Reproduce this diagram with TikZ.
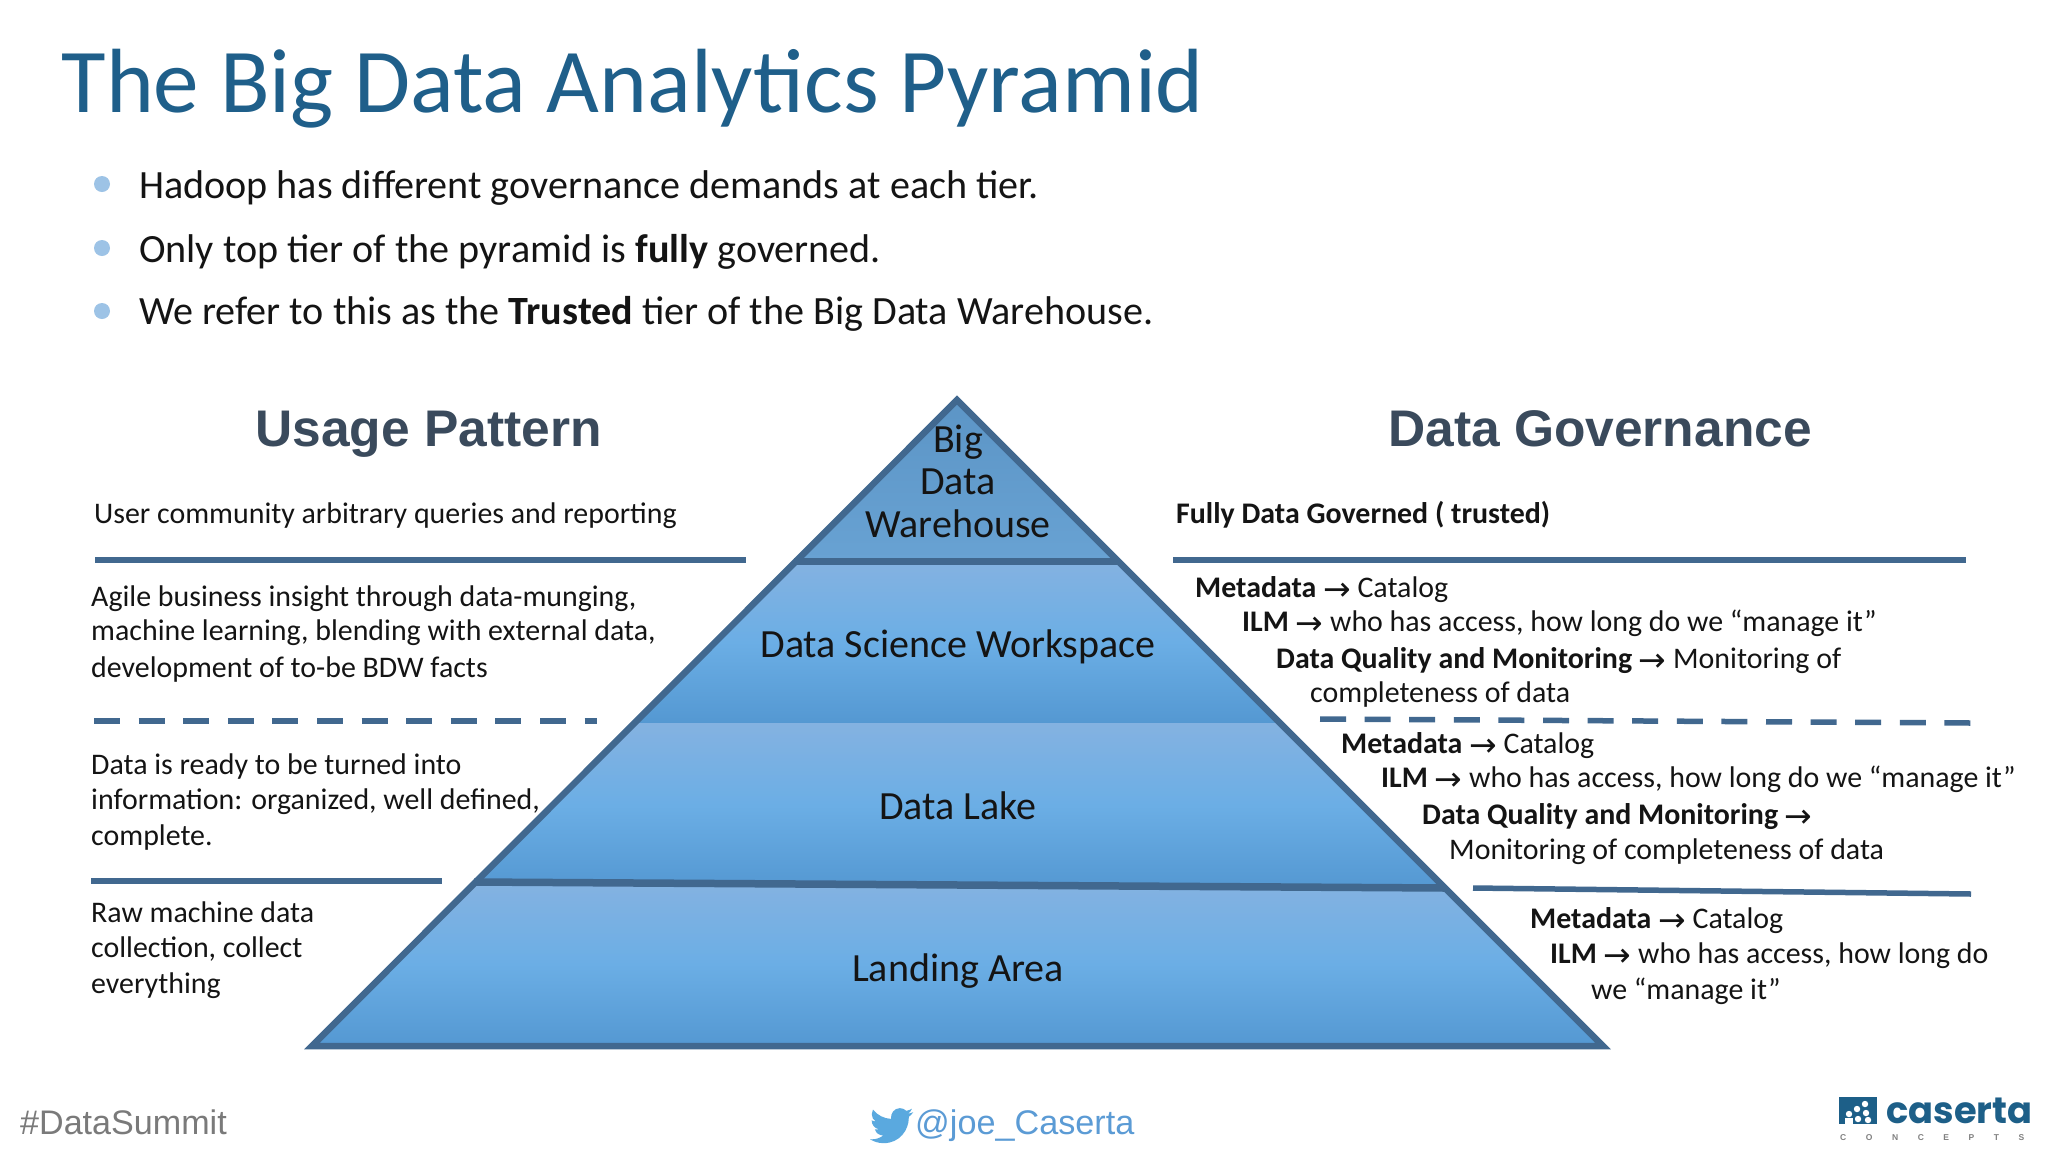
\documentclass[tikz,border=0pt]{standalone}
\usepackage{fontspec}
\setmainfont{Carlito}
\newfontfamily\headfont{Liberation Sans}
\newfontfamily\arrowfont{DejaVu Sans}
\newfontfamily\logofont{Poppins}
\newcommand{\toarrow}{\raisebox{-3.5pt}{\arrowfont\fontsize{33}{33}\selectfont →}}
\definecolor{titleblue}{HTML}{1F5F8A}
\definecolor{rulecol}{HTML}{41688F}
\definecolor{headcol}{HTML}{3A4A5C}
\definecolor{bulletcol}{HTML}{9DC3E6}
\definecolor{tierlight}{HTML}{84B2E1}
\definecolor{tiermid}{HTML}{6BAEE5}
\definecolor{tierdark}{HTML}{5498D2}
\definecolor{capa}{HTML}{5C95C6}
\definecolor{capb}{HTML}{68A2D3}
\definecolor{inktxt}{HTML}{141414}
\definecolor{logocol}{HTML}{1D5F88}
\definecolor{TwitBlue}{HTML}{5B9BD5}
\definecolor{TwitBird}{HTML}{5AA9DF}
\tikzset{
  txt/.style={anchor=base west,inner sep=0pt,text=inktxt,font=\fontsize{29.9}{30}\selectfont},
  bullettxt/.style={anchor=base west,inner sep=0pt,text=inktxt,font=\fontsize{40.1}{41}\selectfont},
  tierlabel/.style={anchor=base,inner sep=0pt,text=inktxt,font=\fontsize{40}{41}\selectfont},
  headtxt/.style={anchor=base,inner sep=0pt,text=headcol,font=\headfont\bfseries\fontsize{51.5}{54}\selectfont},
  solidrule/.style={draw=rulecol,line width=5.5pt},
  dashrule/.style={draw=rulecol,line width=5.5pt,dash pattern=on 26pt off 18.6pt},
  tierband/.style={top color=tierlight,bottom color=tierdark,middle color=tiermid},
  bulletdot/.style={fill=bulletcol,circle,inner sep=0pt,minimum size=16pt},
}
\begin{document}
\begin{tikzpicture}[x=1pt,y=-1pt]
\useasboundingbox (0,0) rectangle (2048,1152);
\fill[white] (0,0) rectangle (2048,1152);

% title and bullets
\node[anchor=base west,inner sep=0pt,text=titleblue,font=\fontsize{91.2}{95}\selectfont] (title) at (61.5,112) {The Big Data Analytics Pyramid};
\node[bulletdot] (b1) at (102,184) {};
\node[bulletdot] (b2) at (102,248) {};
\node[bulletdot] (b3) at (102,311) {};
\node[bullettxt] (bt1) at (139,198.5) {Hadoop has different governance demands at each tier.};
\node[bullettxt] (bt2) at (139,262) {Only top tier of the pyramid is \textbf{fully} governed.};
\node[bullettxt] (bt3) at (139,324.5) {We refer to this as the \textbf{Trusted} tier of the Big Data Warehouse.};

% pyramid
\coordinate (apex) at (957,400);
\coordinate (t1l) at (794,561);
\coordinate (t1r) at (1120,561);
\coordinate (t2l) at (636,723);
\coordinate (t2r) at (1279,723);
\coordinate (t3l) at (474,882);
\coordinate (t3r) at (1445,888);
\coordinate (bl) at (312,1046);
\coordinate (br) at (1603,1046);
\fill[top color=capa,bottom color=capb] (apex) -- (t1r) -- (t1l) -- cycle;
\path[tierband] (t1l) -- (t1r) -- (t2r) -- (t2l) -- cycle;
\path[tierband] (t2l) -- (t2r) -- (t3r) -- (t3l) -- cycle;
\path[tierband] (t3l) -- (t3r) -- (br) -- (bl) -- cycle;
\draw[rulecol,line width=6.5pt,line join=miter] (apex) -- (bl) -- (br) -- cycle;
\draw[solidrule,line width=7pt] (t1l) -- (t1r);
\draw[solidrule,line width=7.5pt] (t3l) -- (t3r);

\node[tierlabel] (bdw1) at (958,452) {Big};
\node[tierlabel] (bdw2) at (958,494) {Data};
\node[tierlabel] (bdw3) at (958,537) {Warehouse};
\node[tierlabel] (dsw) at (958,657) {Data Science Workspace};
\node[tierlabel] (lake) at (958,819) {Data Lake};
\node[tierlabel] (land) at (958,981) {Landing Area};

% column heads
\node[headtxt] (usage) at (428.5,446) {Usage Pattern};
\node[headtxt] (gov) at (1600,446) {Data Governance};

% separators
\coordinate (la1) at (95,560);  \coordinate (la2) at (746,560);
\coordinate (ra1) at (1173,560); \coordinate (ra2) at (1966,560);
\coordinate (lb1) at (94,721);  \coordinate (lb2) at (597,721);
\coordinate (rb1) at (1320,719); \coordinate (rb2) at (1971,723);
\coordinate (lc1) at (91,881);  \coordinate (lc2) at (442,881);
\coordinate (rc1) at (1473,888); \coordinate (rc2) at (1971,894);
\draw[solidrule] (la1) -- (la2);
\draw[solidrule] (ra1) -- (ra2);
\draw[dashrule] (lb1) -- (lb2);
\draw[dashrule] (rb1) -- (rb2);
\draw[solidrule] (lc1) -- (lc2);
\draw[solidrule] (rc1) -- (rc2);

% left column
\node[txt] (l1) at (94,523) {User community arbitrary queries and reporting};
\node[txt] (l2a) at (91,606) {Agile business insight through data-munging,};
\node[txt] (l2b) at (91,640) {machine learning, blending with external data,};
\node[txt] (l2c) at (91,677) {development of to-be BDW facts};
\node[txt] (l3a) at (91,774) {Data is ready to be turned into};
\node[txt] (l3b) at (91,809) {information: organized, well defined,};
\node[txt] (l3c) at (91,845) {complete.};
\node[txt] (l4a) at (91,922) {Raw machine data};
\node[txt] (l4b) at (91,957) {collection, collect};
\node[txt] (l4c) at (91,993) {everything};

% right column
\node[txt] (r1) at (1176,523) {\textbf{Fully Data Governed ( trusted)}};
\node[txt] (r2a) at (1195,597) {\textbf{Metadata} \toarrow{} Catalog};
\node[txt] (r2b) at (1242,631) {\textbf{ILM} \toarrow{} who has access, how long do we “manage it”};
\node[txt] (r2c) at (1276,668) {\textbf{Data Quality and Monitoring} \toarrow{} Monitoring of};
\node[txt] (r2d) at (1310,702) {completeness of data};
\node[txt] (r3a) at (1341,753) {\textbf{Metadata} \toarrow{} Catalog};
\node[txt] (r3b) at (1381,787) {\textbf{ILM} \toarrow{} who has access, how long do we “manage it”};
\node[txt] (r3c) at (1422,824) {\textbf{Data Quality and Monitoring} \toarrow{}};
\node[txt] (r3d) at (1449,859) {Monitoring of completeness of data};
\node[txt] (r4a) at (1530,928) {\textbf{Metadata} \toarrow{} Catalog};
\node[txt] (r4b) at (1550,963) {\textbf{ILM} \toarrow{} who has access, how long do};
\node[txt] (r4c) at (1591,999) {we “manage it”};

% footer
\node[anchor=base west,inner sep=0pt,text=black!52,font=\headfont\fontsize{34.1}{36}\selectfont] (tag) at (20,1134) {\#DataSummit};
\node[anchor=base west,inner sep=0pt,text=TwitBlue,font=\headfont\fontsize{34.2}{36}\selectfont] (handle) at (915,1134) {@joe\_Caserta};
\begin{scope}[shift={(870,1104)},scale=1.8]
\fill[TwitBird] (23.95,4.57) .. controls (23.1,4.95) and (22.1,5.2) .. (21.13,5.35)
 .. controls (22.1,4.75) and (22.9,3.8) .. (23.29,2.62)
 .. controls (22.34,3.18) and (21.29,3.58) .. (20.16,3.81)
 .. controls (19.3,2.9) and (18.1,2.3) .. (16.57,2.3)
 .. controls (13.5,2.3) and (11.1,5.3) .. (11.78,8.29)
 .. controls (7.69,8.095) and (4.067,6.13) .. (1.64,3.162)
 .. controls (1.2,3.9) and (.97,4.75) .. (.97,5.64)
 .. controls (.97,7.35) and (1.84,8.85) .. (3.16,9.73)
 .. controls (2.36,9.7) and (1.6,9.5) .. (.93,9.12)
 -- (.93,9.18)
 .. controls (.93,11.55) and (2.62,13.55) .. (4.88,14.01)
 .. controls (4.17,14.2) and (3.42,14.23) .. (2.67,14.09)
 .. controls (3.3,16.05) and (5.1,17.45) .. (7.27,17.51)
 .. controls (5.6,18.82) and (3.5,19.61) .. (1.17,19.61)
 .. controls (.78,19.61) and (.39,19.59) .. (0,19.54)
 .. controls (2.18,20.94) and (4.77,21.75) .. (7.56,21.75)
 .. controls (16.61,21.75) and (21.55,14.25) .. (21.54,7.77)
 .. controls (21.54,7.56) and (21.54,7.35) .. (21.53,7.14)
 .. controls (22.49,6.45) and (23.32,5.58) .. (24,4.59) -- cycle;
\end{scope}

% logo
\fill[logocol] (1839,1097) rectangle (1877,1124);
\foreach \cx/\cy in {1865/1104,1857/1109,1866/1113,1849/1114,1858/1119,1868/1120}
  \fill[white] (\cx,\cy) circle (3.2pt);
\fill[white] (1845,1118) rectangle (1853,1124.5);
\node[anchor=base west,inner sep=0pt,text=logocol,font=\logofont\bfseries\fontsize{36.8}{37}\selectfont] (caserta) at (1886,1123) {caserta};
\node[anchor=base west,inner sep=0pt,text=black!50,font=\headfont\bfseries\fontsize{8.5}{9}\addfontfeature{LetterSpace=230}\selectfont] (concepts) at (1840,1140) {CONCEPTS};
\end{tikzpicture}
\end{document}
